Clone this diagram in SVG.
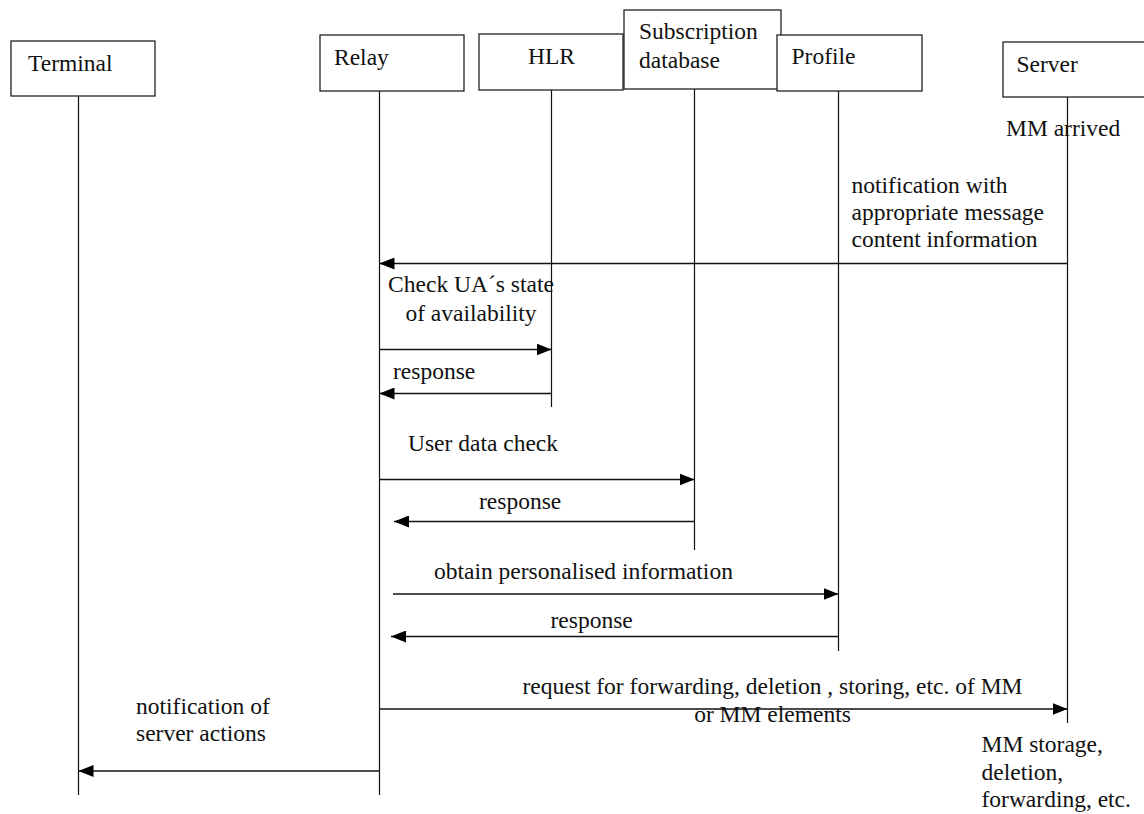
<svg xmlns="http://www.w3.org/2000/svg" width="1144" height="814" viewBox="0 0 1144 814">
  <style>
    .box { fill: #ffffff; stroke: #222222; stroke-width: 1.3; }
    .life { stroke: #111111; stroke-width: 1.2; fill: none; }
    .msg { stroke: #111111; stroke-width: 1.3; fill: none; marker-end: url(#arrow); }
    text { font-family: "Liberation Serif", "Times New Roman", serif; font-size: 23.5px; fill: #111111; }
  </style>
  <defs>
    <marker id="arrow" viewBox="0 0 15 12" refX="15" refY="6" markerWidth="15" markerHeight="12" markerUnits="userSpaceOnUse" orient="auto">
      <path d="M0,0 L15,6 L0,12 Z" fill="#000000"/>
    </marker>
  </defs>

  <rect width="1144" height="814" fill="#ffffff"/>

  <!-- lifelines -->
  <g id="lifelines">
    <line class="life" x1="78.5" y1="96" x2="78.5" y2="795"/>
    <line class="life" x1="379.5" y1="91" x2="379.5" y2="795"/>
    <line class="life" x1="551.5" y1="90" x2="551.5" y2="407"/>
    <line class="life" x1="694.5" y1="89" x2="694.5" y2="550"/>
    <line class="life" x1="838.5" y1="91" x2="838.5" y2="651"/>
    <line class="life" x1="1067.5" y1="97" x2="1067.5" y2="723"/>
  </g>

  <!-- participants -->
  <g id="terminal">
    <rect class="box" x="11" y="41" width="144" height="55"/>
    <text x="28" y="71">Terminal</text>
  </g>
  <g id="relay">
    <rect class="box" x="320" y="35" width="144" height="56"/>
    <text x="334" y="65">Relay</text>
  </g>
  <g id="hlr">
    <rect class="box" x="479" y="34" width="144" height="56"/>
    <text x="528" y="64">HLR</text>
  </g>
  <g id="subscription-db">
    <rect class="box" x="624" y="10" width="157" height="79"/>
    <text x="639" y="39">Subscription</text>
    <text x="639" y="67.5">database</text>
  </g>
  <g id="profile">
    <rect class="box" x="777" y="35" width="145" height="56"/>
    <text x="791.5" y="64">Profile</text>
  </g>
  <g id="server">
    <rect class="box" x="1003" y="42" width="160" height="55"/>
    <text x="1016.5" y="71.5">Server</text>
  </g>

  <!-- messages -->
  <g id="connectors">
    <line class="msg" x1="1067" y1="263.5" x2="379.5" y2="263.5"/>
    <line class="msg" x1="379.5" y1="349.5" x2="551.5" y2="349.5"/>
    <line class="msg" x1="551.5" y1="393.5" x2="379.5" y2="393.5"/>
    <line class="msg" x1="379.5" y1="479.5" x2="694.5" y2="479.5"/>
    <line class="msg" x1="694.5" y1="521.5" x2="394" y2="521.5"/>
    <line class="msg" x1="393" y1="594" x2="838.5" y2="594"/>
    <line class="msg" x1="838.5" y1="636.5" x2="391" y2="636.5"/>
    <line class="msg" x1="379.5" y1="709" x2="1067.5" y2="709"/>
    <line class="msg" x1="379.5" y1="771" x2="78.5" y2="771"/>
  </g>

  <!-- labels -->
  <g id="labels">
    <text x="1006" y="136">MM arrived</text>
    <text x="851.5" y="192.5">notification with</text>
    <text x="851.5" y="220">appropriate message</text>
    <text x="851.5" y="246.5">content information</text>
    <text x="471" y="291.5" text-anchor="middle">Check UA´s state</text>
    <text x="471" y="321" text-anchor="middle">of availability</text>
    <text x="393" y="379">response</text>
    <text x="408" y="450.5">User data check</text>
    <text x="479" y="508.5">response</text>
    <text x="434" y="579">obtain personalised information</text>
    <text x="550.5" y="627.5">response</text>
    <text x="772.5" y="693.5" text-anchor="middle">request for forwarding, deletion , storing, etc. of MM</text>
    <text x="772.5" y="721.5" text-anchor="middle">or MM elements</text>
    <text x="136" y="713.5">notification of</text>
    <text x="136" y="741">server actions</text>
    <text x="981.5" y="751.5">MM storage,</text>
    <text x="981.5" y="780">deletion,</text>
    <text x="981.5" y="806.5">forwarding, etc.</text>
  </g>
</svg>
